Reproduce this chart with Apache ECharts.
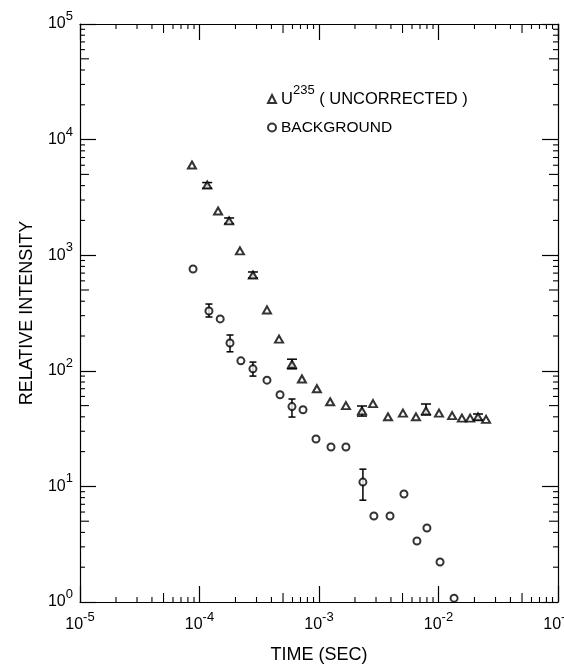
<!DOCTYPE html>
<html><head><meta charset="utf-8">
<script src="https://cdn.jsdelivr.net/npm/echarts@6/dist/echarts.min.js"></script>
<style>html,body{margin:0;padding:0;background:#fff}#c{width:564px;height:665px}</style>
</head><body><div id="c"></div>
<script>
// ---- data ----
const uTime = [8.65e-5, 1.16e-4, 1.43e-4, 1.77e-4, 2.18e-4, 2.8e-4, 3.67e-4, 4.63e-4, 5.94e-4, 7.2e-4, 9.6e-4, 1.24e-3, 1.68e-3, 2.29e-3, 2.83e-3, 3.78e-3, 5.04e-3, 6.48e-3, 7.86e-3, 1.01e-2, 1.30e-2, 1.57e-2, 1.84e-2, 2.14e-2, 2.5e-2];
const uIntensity = [6030, 4050, 2410, 1980, 1090, 674, 336, 188, 114, 85, 70, 54, 50, 45, 52, 40, 43, 40, 45, 43, 41, 39, 39, 40, 38];
const uErrTime = [1.16e-4, 1.77e-4, 2.8e-4, 5.94e-4, 2.29e-3, 7.86e-3, 2.14e-2];
const uErrLow  = [3800, 1880, 635, 104, 40.6, 41.5, 37.5];
const uErrHigh = [4250, 2100, 716, 126, 49.6, 51.6, 42.3];

const bgTime = [8.83e-5, 1.2e-4, 1.49e-4, 1.8e-4, 2.22e-4, 2.8e-4, 3.67e-4, 4.72e-4, 5.94e-4, 7.35e-4, 9.44e-4, 1.26e-3, 1.68e-3, 2.33e-3, 2.88e-3, 3.93e-3, 5.14e-3, 6.6e-3, 8.0e-3, 1.03e-2, 1.35e-2];
const bgIntensity = [760, 329, 281, 174, 122, 104, 83, 62, 49, 46, 25.7, 21.9, 21.9, 10.9, 5.55, 5.55, 8.6, 3.37, 4.37, 2.22, 1.08];
const bgErrTime = [1.2e-4, 1.8e-4, 2.8e-4, 5.94e-4, 2.33e-3];
const bgErrLow  = [292, 146, 90, 39.8, 7.6];
const bgErrHigh = [378, 204, 119, 57, 14.1];

const xDecades = [-5, -4, -3, -2, -1];
const yDecades = [0, 1, 2, 3, 4, 5];
const minorMantissas = [2, 3, 4, 5, 6, 7, 8, 9];
const seriesNames = ['U235', 'BACKGROUND'];

// ---- chart ----
const FONT = '"Liberation Sans", Arial, sans-serif';
const INK = '#000';
const chart = echarts.init(document.getElementById('c'), null, {renderer: 'canvas'});

function supLabel(v) {
  const e = Math.round(Math.log10(v));
  return '{b|10}{s|' + e + '}';
}
const labelRich = {
  b: {fontSize: 16, fontFamily: FONT, color: INK, lineHeight: 28},
  s: {fontSize: 13, fontFamily: FONT, color: INK, lineHeight: 12, verticalAlign: 'top'}
};

const xMinorData = [];
xDecades.slice(0, -1).forEach(d => minorMantissas.forEach(m => xMinorData.push([m * Math.pow(10, d), 1, m])));
const yMinorData = [];
yDecades.slice(0, -1).forEach(d => minorMantissas.forEach(m => yMinorData.push([1e-5, m * Math.pow(10, d), m])));

const tickStyle = {stroke: INK, lineWidth: 1.1};
function xMinorRender(params, api) {
  const cs = params.coordSys;
  const p = api.coord([api.value(0), 1]);
  const len = api.value(2) === 5 ? 9 : 5;
  const yb = cs.y + cs.height, yt = cs.y;
  return {type: 'group', children: [
    {type: 'line', shape: {x1: p[0], y1: yb, x2: p[0], y2: yb - len}, style: tickStyle},
    {type: 'line', shape: {x1: p[0], y1: yt, x2: p[0], y2: yt + len}, style: tickStyle}
  ]};
}
function yMinorRender(params, api) {
  const cs = params.coordSys;
  const p = api.coord([1e-5, api.value(1)]);
  const len = api.value(2) === 5 ? 9 : 5;
  const xl = cs.x, xr = cs.x + cs.width;
  return {type: 'group', children: [
    {type: 'line', shape: {x1: xl, y1: p[1], x2: xl + len, y2: p[1]}, style: tickStyle},
    {type: 'line', shape: {x1: xr, y1: p[1], x2: xr - len, y2: p[1]}, style: tickStyle}
  ]};
}
function errRender(capW) {
  return function (params, api) {
    const x = api.value(0);
    const p1 = api.coord([x, api.value(1)]);
    const p2 = api.coord([x, api.value(2)]);
    const st = {stroke: INK, lineWidth: 1.5};
    return {type: 'group', children: [
      {type: 'line', shape: {x1: p1[0], y1: p1[1], x2: p2[0], y2: p2[1]}, style: st},
      {type: 'line', shape: {x1: p1[0] - capW / 2, y1: p1[1], x2: p1[0] + capW / 2, y2: p1[1]}, style: st},
      {type: 'line', shape: {x1: p2[0] - capW / 2, y1: p2[1], x2: p2[0] + capW / 2, y2: p2[1]}, style: st}
    ]};
  };
}

const axisLineStyle = {color: INK, width: 1.2};
const xBase = {type: 'log', logBase: 10, min: 1e-5, max: 1e-1, splitLine: {show: false}, minorTick: {show: false},
  axisLine: {show: true, onZero: false, lineStyle: axisLineStyle},
  axisTick: {show: true, inside: true, length: 16, lineStyle: {color: INK, width: 1.2}}};
const yBase = {type: 'log', logBase: 10, min: 1, max: 1e5, splitLine: {show: false}, minorTick: {show: false},
  axisLine: {show: true, onZero: false, lineStyle: axisLineStyle},
  axisTick: {show: true, inside: true, length: 16, lineStyle: {color: INK, width: 1.2}}};

chart.setOption({
  animation: false,
  backgroundColor: '#fff',
  grid: {left: 80, right: 6, top: 24, bottom: 63, containLabel: false, outerBoundsMode: 'none'},
  xAxis: [
    Object.assign({}, xBase, {position: 'bottom',
      axisLabel: {show: true, formatter: supLabel, margin: 9, rich: labelRich, showMinLabel: true, showMaxLabel: true, hideOverlap: false},
      name: 'TIME (SEC)', nameLocation: 'middle', nameGap: 44,
      nameTextStyle: {fontFamily: FONT, fontSize: 18, color: INK}}),
    Object.assign({}, xBase, {position: 'top', axisLabel: {show: false}})
  ],
  yAxis: [
    Object.assign({}, yBase, {position: 'left',
      axisLabel: {show: true, formatter: supLabel, margin: 7, rich: labelRich, showMinLabel: true, showMaxLabel: true},
      name: 'RELATIVE INTENSITY', nameLocation: 'middle', nameGap: 44, nameRotate: 90,
      nameTextStyle: {fontFamily: FONT, fontSize: 18, color: INK}}),
    Object.assign({}, yBase, {position: 'right', axisLabel: {show: false}})
  ],
  legend: {
    data: seriesNames,
    orient: 'vertical', left: 267, top: 84, itemGap: 12, padding: 0,
    itemWidth: 8, itemHeight: 8, itemStyle: {borderWidth: 1.5},
    formatter: function (name) {
      return name === 'U235' ? '{u|U}{s|235}{v| ( UNCORRECTED )}' : '{t|BACKGROUND}';
    },
    textStyle: {
      rich: {
        u: {fontSize: 16.5, fontFamily: FONT, color: INK, lineHeight: 30},
        s: {fontSize: 13, fontFamily: FONT, color: INK, lineHeight: 13, verticalAlign: 'top'},
        v: {fontSize: 16.5, fontFamily: FONT, color: INK, lineHeight: 30},
        t: {fontSize: 15.5, fontFamily: FONT, color: INK, lineHeight: 18}
      }
    }
  },
  series: [
    {type: 'custom', name: 'xminor', renderItem: xMinorRender, data: xMinorData, encode: {x: 0, y: 1}, silent: true, z: 1},
    {type: 'custom', name: 'yminor', renderItem: yMinorRender, data: yMinorData, encode: {x: 0, y: 1}, silent: true, z: 1},
    {type: 'custom', name: 'uerr', renderItem: errRender(10), encode: {x: 0, y: [1, 2]},
      data: uErrTime.map((t, i) => [t, uErrLow[i], uErrHigh[i]]), z: 2},
    {type: 'custom', name: 'bgerr', renderItem: errRender(7), encode: {x: 0, y: [1, 2]},
      data: bgErrTime.map((t, i) => [t, bgErrLow[i], bgErrHigh[i]]), z: 2},
    {type: 'scatter', name: 'U235', symbol: 'emptyTriangle', symbolSize: [8, 7],
      itemStyle: {color: INK, borderColor: INK, borderWidth: 1.6},
      data: uTime.map((t, i) => [t, uIntensity[i]]), z: 3},
    {type: 'scatter', name: 'BACKGROUND', symbol: 'emptyCircle', symbolSize: 7,
      itemStyle: {color: INK, borderColor: INK, borderWidth: 1.6},
      data: bgTime.map((t, i) => [t, bgIntensity[i]]), z: 3}
  ]
});
</script>
</body></html>
